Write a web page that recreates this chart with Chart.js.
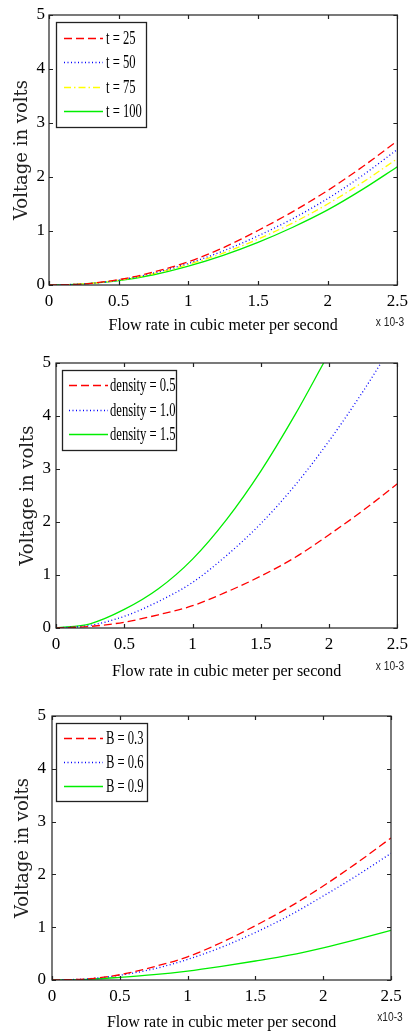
<!DOCTYPE html>
<html><head><meta charset="utf-8">
<script src="https://cdn.jsdelivr.net/npm/chart.js@4.4.1/dist/chart.umd.min.js"></script>
<style>
html,body{margin:0;padding:0;background:#fff;width:414px;height:1032px;overflow:hidden;}
canvas{position:absolute;left:0;display:block;}
</style></head><body>
<canvas id="c1" width="414" height="340" style="top:0px"></canvas>
<canvas id="c2" width="414" height="350" style="top:340px"></canvas>
<canvas id="c3" width="414" height="342" style="top:690px"></canvas>
<script>
// ---- shared axes ----
const xTickValues = [0, 0.5, 1, 1.5, 2, 2.5];
const xTickLabels = ['0', '0.5', '1', '1.5', '2', '2.5'];
const yTickValues = [0, 1, 2, 3, 4, 5];
const yTickLabels = ['0', '1', '2', '3', '4', '5'];
const xAxisTitle = 'Flow rate in cubic meter per second';
const yAxisTitle = 'Voltage in volts';
const exponentLabels = ['x 10-3', 'x 10-3', 'x10-3'];

// ---- flow rate samples (x 10^-3 m^3/s) ----
const flowRate = [0, 0.25, 0.5, 0.75, 1, 1.25, 1.5, 1.75, 2, 2.25, 2.5];

// ---- panel 1: temperature ----
const p1Labels = ['t = 25', 't = 50', 't = 75', 't = 100'];
const t25  = [0.00, 0.02, 0.10, 0.24, 0.43, 0.69, 1.01, 1.36, 1.75, 2.19, 2.67];
const t50  = [0.00, 0.02, 0.09, 0.22, 0.40, 0.63, 0.91, 1.23, 1.60, 2.03, 2.51];
const t75  = [0.00, 0.02, 0.09, 0.21, 0.38, 0.59, 0.85, 1.15, 1.50, 1.90, 2.34];
const t100 = [0.00, 0.02, 0.08, 0.19, 0.35, 0.55, 0.79, 1.07, 1.39, 1.77, 2.19];

// ---- panel 2: density ----
const p2Labels = ['density = 0.5', 'density = 1.0', 'density = 1.5'];
const d05Flow = [0, 0.25, 0.5, 0.75, 1, 1.25, 1.5, 1.75, 2, 2.25, 2.5];
const d05     = [0.00, 0.03, 0.11, 0.25, 0.42, 0.68, 0.98, 1.33, 1.76, 2.22, 2.72];
const d10Flow = [0, 0.25, 0.5, 0.75, 1, 1.25, 1.5, 1.75, 2, 2.25, 2.38];
const d10     = [0.00, 0.05, 0.22, 0.50, 0.86, 1.37, 1.97, 2.69, 3.53, 4.47, 5.00];
const d15Flow = [0, 0.25, 0.5, 0.75, 1, 1.25, 1.5, 1.75, 1.96];
const d15     = [0.00, 0.08, 0.35, 0.74, 1.30, 2.05, 2.96, 4.02, 5.00];

// ---- panel 3: magnetic field ----
const p3Labels = ['B = 0.3', 'B = 0.6', 'B = 0.9'];
const b03 = [0.00, 0.02, 0.10, 0.25, 0.44, 0.71, 1.03, 1.38, 1.78, 2.22, 2.69];
const b06 = [0.00, 0.02, 0.09, 0.21, 0.39, 0.62, 0.90, 1.22, 1.59, 1.98, 2.40];
const b09 = [0.00, 0.01, 0.05, 0.10, 0.17, 0.26, 0.36, 0.47, 0.61, 0.77, 0.94];

// ---- styles ----
const RED = '#ff0000', BLUE = '#0000ff', YELLOW = '#ffff00', GREEN = '#00ee00';
const DASH = [8, 4], DOT = [1, 2.5], DASHDOT = [7, 3, 1.5, 3], SOLID = [];

function pts(xs, ys) { return xs.map((x, i) => ({ x: x, y: ys[i] })); }
function ds(label, xs, ys, color, dash) {
  return { label, data: pts(xs, ys), borderColor: color, borderDash: dash, borderWidth: 1.3,
           pointRadius: 0, fill: false, cubicInterpolationMode: 'monotone' };
}

// frame with inward tick marks, legend box and exponent label
const decorPlugin = {
  id: 'decor',
  afterDatasetsDraw(chart, args, opts) {
    const ctx = chart.ctx, a = chart.chartArea;
    const xs = chart.scales.x, ys = chart.scales.y;
    ctx.save();
    ctx.strokeStyle = '#222';
    ctx.lineWidth = 1.2;
    ctx.strokeRect(a.left, a.top, a.right - a.left, a.bottom - a.top);
    const tl = 4;
    ctx.beginPath();
    xTickValues.forEach(v => {
      const px = Math.round(xs.getPixelForValue(v)) + 0.5;
      ctx.moveTo(px, a.bottom); ctx.lineTo(px, a.bottom - tl);
      ctx.moveTo(px, a.top); ctx.lineTo(px, a.top + tl);
    });
    yTickValues.forEach(v => {
      const py = Math.round(ys.getPixelForValue(v)) + 0.5;
      ctx.moveTo(a.left, py); ctx.lineTo(a.left + tl, py);
      ctx.moveTo(a.right, py); ctx.lineTo(a.right - tl, py);
    });
    ctx.stroke();

    // legend
    const L = opts.legend;
    ctx.fillStyle = '#fff';
    ctx.fillRect(L.left, L.top, L.right - L.left, L.bottom - L.top);
    ctx.strokeStyle = '#222';
    ctx.lineWidth = 1.3;
    ctx.strokeRect(L.left + 0.5, L.top + 0.5, L.right - L.left, L.bottom - L.top);
    chart.data.datasets.forEach((d, i) => {
      const y = L.rows[i];
      ctx.save();
      ctx.strokeStyle = d.borderColor;
      ctx.lineWidth = 1.3;
      ctx.setLineDash(d.borderDash || []);
      ctx.beginPath();
      ctx.moveTo(L.lineX0, y + 0.5); ctx.lineTo(L.lineX1, y + 0.5);
      ctx.stroke();
      ctx.restore();
      ctx.save();
      ctx.translate(L.textX, y);
      ctx.scale(0.7, 1);
      ctx.fillStyle = '#000';
      ctx.font = '18px "Liberation Serif"';
      ctx.textBaseline = 'middle';
      ctx.textAlign = 'left';
      ctx.fillText(d.label, 0, 1);
      ctx.restore();
    });

    // exponent label
    const E = opts.exponent;
    ctx.save();
    ctx.translate(E.x, E.y);
    ctx.scale(0.85, 1);
    ctx.fillStyle = '#222';
    ctx.font = '12px "Liberation Sans"';
    ctx.textAlign = 'center';
    ctx.textBaseline = 'middle';
    ctx.fillText(E.text, 0, 0);
    ctx.restore();
    ctx.restore();
  }
};

function makeChart(id, datasets, geo) {
  const canvas = document.getElementById(id);
  const H = canvas.height;
  return new Chart(canvas, {
    type: 'line',
    data: { datasets },
    plugins: [decorPlugin],
    options: {
      responsive: false,
      animation: false,
      devicePixelRatio: 1,
      layout: { padding: { top: geo.top, right: 414 - geo.right, bottom: 0, left: 0 } },
      plugins: {
        legend: { display: false },
        tooltip: { enabled: false },
        decor: { legend: geo.legend, exponent: geo.exponent }
      },
      scales: {
        x: {
          type: 'linear', min: 0, max: 2.5,
          grid: { display: false, drawTicks: false },
          border: { display: false },
          afterBuildTicks: s => { s.ticks = xTickValues.map(v => ({ value: v })); },
          afterFit: s => { s.height = H - geo.bottom; },
          ticks: {
            padding: 6, color: '#000', maxRotation: 0, autoSkip: false,
            font: { family: 'Liberation Serif', size: 17 },
            callback: v => xTickLabels[xTickValues.indexOf(v)]
          },
          title: {
            display: true, text: xAxisTitle, color: '#000',
            font: { family: 'Liberation Serif', size: 16 },
            padding: { top: 0, bottom: geo.xTitlePad }
          }
        },
        y: {
          type: 'linear', min: 0, max: 5,
          grid: { display: false, drawTicks: false },
          border: { display: false },
          afterBuildTicks: s => { s.ticks = yTickValues.map(v => ({ value: v })); },
          afterFit: s => { s.width = geo.left; },
          ticks: {
            padding: geo.yTickPad, color: '#000', autoSkip: false,
            font: { family: 'Liberation Serif', size: 17 },
            callback: v => yTickLabels[yTickValues.indexOf(v)]
          },
          title: {
            display: true, text: yAxisTitle, color: '#222',
            font: { family: 'DejaVu Serif', size: 18 },
            padding: { top: geo.yTitlePad, bottom: 0 }
          }
        }
      }
    }
  });
}

makeChart('c1', [
  ds(p1Labels[0], flowRate, t25, RED, DASH),
  ds(p1Labels[1], flowRate, t50, BLUE, DOT),
  ds(p1Labels[2], flowRate, t75, YELLOW, DASHDOT),
  ds(p1Labels[3], flowRate, t100, GREEN, SOLID)
], {
  left: 49, right: 399, top: 15, bottom: 285, xTitlePad: 5, yTickPad: 4, yTitlePad: 12,
  legend: { left: 56, top: 22, right: 146, bottom: 127, rows: [38, 62, 87, 111], lineX0: 64, lineX1: 103, textX: 106 },
  exponent: { x: 390, y: 323, text: exponentLabels[0] }
});

makeChart('c2', [
  ds(p2Labels[0], d05Flow, d05, RED, DASH),
  ds(p2Labels[1], d10Flow, d10, BLUE, DOT),
  ds(p2Labels[2], d15Flow, d15, GREEN, SOLID)
], {
  left: 56, right: 401, top: 23, bottom: 288, xTitlePad: 9, yTickPad: 5, yTitlePad: 18,
  legend: { left: 62, top: 30, right: 176, bottom: 110, rows: [45, 70, 94], lineX0: 69, lineX1: 108, textX: 110 },
  exponent: { x: 390, y: 327, text: exponentLabels[1] }
});

makeChart('c3', [
  ds(p3Labels[0], flowRate, b03, RED, DASH),
  ds(p3Labels[1], flowRate, b06, BLUE, DOT),
  ds(p3Labels[2], flowRate, b09, GREEN, SOLID)
], {
  left: 52, right: 391, top: 26, bottom: 290, xTitlePad: 0, yTickPad: 6, yTitlePad: 13,
  legend: { left: 56, top: 33, right: 147, bottom: 111, rows: [48, 72, 96], lineX0: 64, lineX1: 103, textX: 106 },
  exponent: { x: 390, y: 328, text: exponentLabels[2] }
});
</script>
</body></html>
